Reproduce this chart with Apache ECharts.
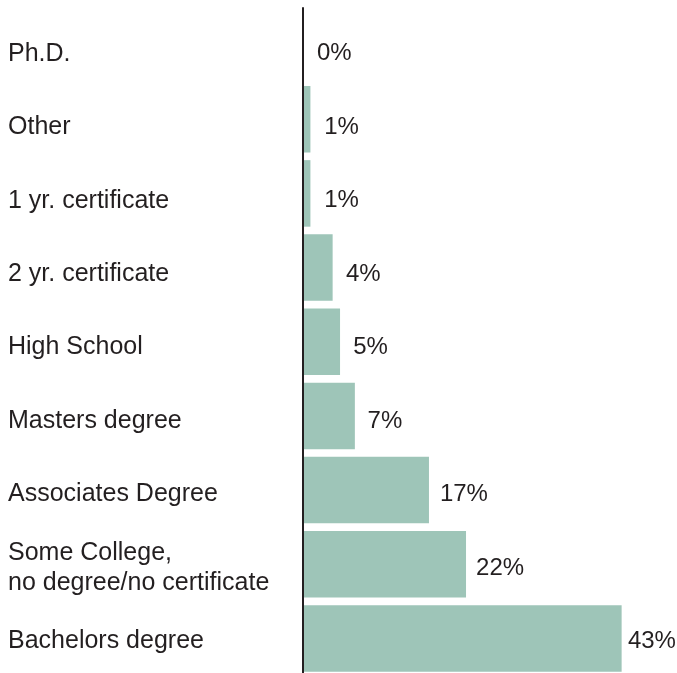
<!DOCTYPE html>
<html>
<head>
<meta charset="utf-8">
<script src="https://cdn.jsdelivr.net/npm/echarts@6/dist/echarts.min.js"></script>
<style>
html,body{margin:0;padding:0;background:#fff;}
#chart{width:677px;height:673px;}
</style>
</head>
<body>
<div id="chart"></div>
<script>
const categories = [
  'Ph.D.',
  'Other',
  '1 yr. certificate',
  '2 yr. certificate',
  'High School',
  'Masters degree',
  'Associates Degree',
  'Some College,\nno degree/no certificate',
  'Bachelors degree'
];
const percentValues = [0, 1, 1, 4, 5, 7, 17, 22, 43];

const textColor = '#231f20';
const fontFamily = '"Liberation Sans", Arial, Helvetica, sans-serif';

const chart = echarts.init(document.getElementById('chart'));
chart.setOption({
  animation: false,
  backgroundColor: '#ffffff',
  grid: [
    { left: 303, top: 8, width: 370.5, height: 667.5, containLabel: false, outerBoundsMode: 'none' },
    { left: 312, top: 17.1, width: 361.5, height: 661, containLabel: false, outerBoundsMode: 'none' }
  ],
  xAxis: [
    { type: 'value', gridIndex: 0, min: 0, max: 50, show: false },
    { type: 'value', gridIndex: 1, min: 0, max: 50, show: false }
  ],
  yAxis: [
    {
      type: 'category', gridIndex: 0, data: categories, inverse: true, z: 10,
      axisLine: { show: true, lineStyle: { color: textColor, width: 2 } },
      axisTick: { show: false },
      axisLabel: { show: false },
      splitLine: { show: false }
    },
    {
      type: 'category', gridIndex: 1, data: categories, inverse: true,
      axisLine: { show: false },
      axisTick: { show: false },
      splitLine: { show: false },
      axisLabel: {
        show: true,
        align: 'left',
        margin: 304,
        color: textColor,
        fontFamily: fontFamily,
        fontSize: 25,
        lineHeight: 29.5
      }
    }
  ],
  series: [
    {
      type: 'bar',
      xAxisIndex: 0, yAxisIndex: 0,
      data: percentValues,
      barCategoryGap: '10.3%',
      itemStyle: { color: '#9ec5b8' },
      silent: true
    },
    {
      type: 'bar',
      xAxisIndex: 1, yAxisIndex: 1,
      data: percentValues,
      barCategoryGap: '10%',
      itemStyle: { color: 'rgba(0,0,0,0)' },
      silent: true,
      label: {
        show: true,
        position: 'right',
        distance: 5,
        formatter: '{c}%',
        color: textColor,
        fontFamily: fontFamily,
        fontSize: 24
      }
    }
  ]
});
</script>
</body>
</html>
